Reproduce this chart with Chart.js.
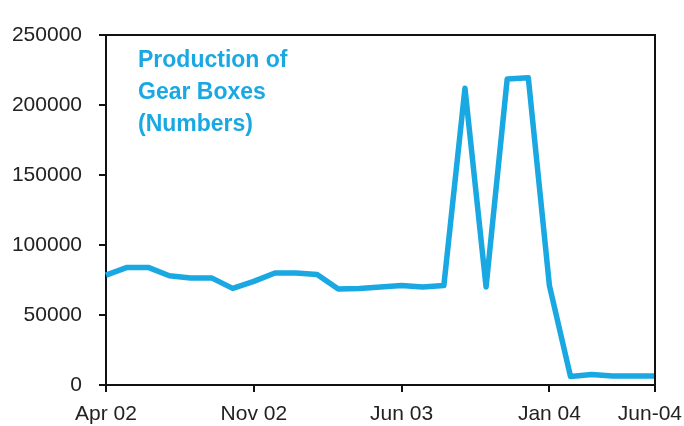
<!DOCTYPE html>
<html>
<head>
<meta charset="utf-8">
<script src="https://cdn.jsdelivr.net/npm/chart.js@4"></script>
<style>
  html, body { margin: 0; padding: 0; background: #fff; }
</style>
</head>
<body>
<canvas id="gearChart" width="684" height="426"></canvas>
<script>
// months Apr 02 .. Jun 04
var months = ['Apr 02', 'May 02', 'Jun 02', 'Jul 02', 'Aug 02', 'Sep 02', 'Oct 02',
  'Nov 02', 'Dec 02', 'Jan 03', 'Feb 03', 'Mar 03', 'Apr 03', 'May 03',
  'Jun 03', 'Jul 03', 'Aug 03', 'Sep 03', 'Oct 03', 'Nov 03', 'Dec 03',
  'Jan 04', 'Feb 04', 'Mar 04', 'Apr 04', 'May 04', 'Jun-04'];

// which month labels are shown on the x axis
var shownLabels = ['Apr 02', 'Nov 02', 'Jun 03', 'Jan 04', 'Jun-04'];

var production = [78500, 84000, 84000, 78000, 76500, 76500, 69000,
  74000, 80000, 80000, 79000, 68500, 69000, 70000,
  71000, 70000, 71000, 212000, 70000, 218500, 219500,
  71000, 6000, 7500, 6500, 6500, 6500];

var yTicks = [0, 50000, 100000, 150000, 200000, 250000];
var titleLines = ['Production of', 'Gear Boxes', '(Numbers)'];

var lineBlue = '#19a8e2';
var fontFam = '"Liberation Sans", Arial, sans-serif';

// frame on top/right + text inside the plot
var framePlugin = {
  id: 'framePlugin',
  beforeDraw: function (chart) {
    // keep the last x label inside the canvas (right aligned to the edge)
    var items = chart.scales.x.getLabelItems();
    items.forEach(function (it) {
      if (it.label === 'Jun-04') {
        it.options.textAlign = 'right';
        it.options.translation[0] = chart.width - 2;
      }
    });
  },
  afterDraw: function (chart) {
    var a = chart.chartArea;
    var c = chart.ctx;
    c.save();
    c.strokeStyle = '#111';
    c.lineWidth = 2;
    c.beginPath();
    c.moveTo(a.left, a.top);
    c.lineTo(a.right, a.top);
    c.lineTo(a.right, a.bottom);
    c.stroke();
    c.fillStyle = lineBlue;
    c.font = 'bold 23px ' + fontFam;
    c.textBaseline = 'middle';
    titleLines.forEach(function (t, i) {
      c.fillText(t, a.left + 32, a.top + 26 + i * 32);
    });
    c.restore();
  }
};

var ctx = document.getElementById('gearChart').getContext('2d');
var myChart = new Chart(ctx, {
  type: 'line',
  data: {
    labels: months,
    datasets: [{
      label: 'Production of Gear Boxes (Numbers)',
      data: production,
      borderColor: lineBlue,
      borderWidth: 5.5,
      pointRadius: 0,
      tension: 0,
      fill: false,
      borderJoinStyle: 'round'
    }]
  },
  options: {
    responsive: false,
    animation: false,
    layout: { padding: { left: 0, top: 35, right: 0, bottom: 0 } },
    plugins: {
      legend: { display: false },
      tooltip: { enabled: false }
    },
    scales: {
      x: {
        offset: false,
        afterFit: function (s) {
          s.height = 41;
          s.paddingLeft = 0;
          s.paddingRight = 29;
        },
        border: { display: true, color: '#111', width: 2 },
        grid: {
          display: true, drawOnChartArea: false, drawTicks: true, tickLength: 7, lineWidth: 2,
          // no tick mark under the last month (the corner)
          color: function (c) { return c.index === months.length - 1 ? 'rgba(0,0,0,0)' : '#111'; }
        },
        ticks: {
          autoSkip: false,
          maxRotation: 0,
          padding: 10,
          color: '#222',
          font: { family: fontFam, size: 21 },
          callback: function (v, i) {
            var l = months[i];
            return shownLabels.indexOf(l) >= 0 ? l : null;
          }
        }
      },
      y: {
        min: 0,
        max: 250000,
        afterBuildTicks: function (axis) {
          axis.ticks = yTicks.map(function (v) { return { value: v }; });
        },
        afterFit: function (s) {
          s.width = 106;
          s.paddingTop = 0;
        },
        border: { display: true, color: '#111', width: 2 },
        grid: { display: true, drawOnChartArea: false, drawTicks: true, tickLength: 7, color: '#111', lineWidth: 2 },
        ticks: {
          padding: 17,
          color: '#222',
          font: { family: fontFam, size: 21 },
          callback: function (v) { return String(v); }
        }
      }
    }
  },
  plugins: [framePlugin]
});
</script>
</body>
</html>
